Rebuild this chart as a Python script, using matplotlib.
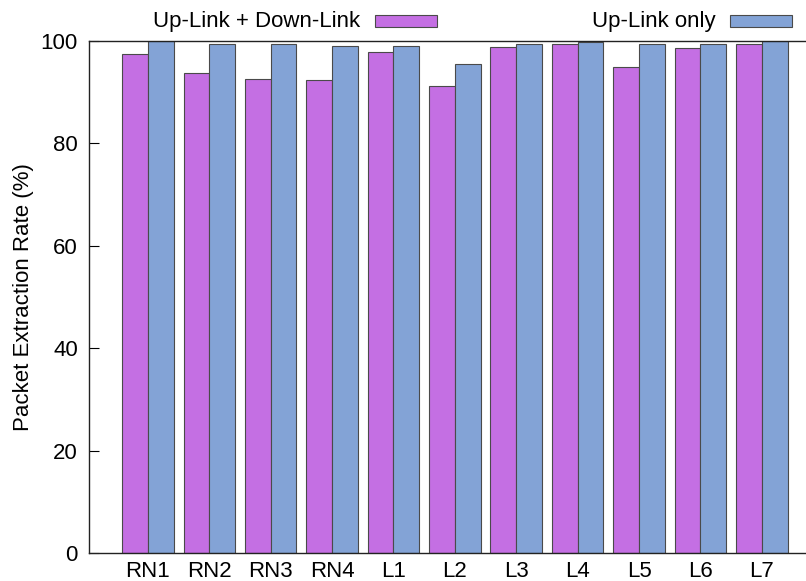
import numpy as np
import matplotlib
matplotlib.use("Agg")
import matplotlib.pyplot as plt
from matplotlib.patches import Rectangle

plt.rcParams['font.family'] = ['Liberation Sans', 'DejaVu Sans']

# packet extraction rate per node, in percent
nodes = ['RN1', 'RN2', 'RN3', 'RN4', 'L1', 'L2', 'L3', 'L4', 'L5', 'L6', 'L7']
up_down = [97.4, 93.7, 92.6, 92.3, 97.9, 91.3, 98.9, 99.4, 95.0, 98.7, 99.4]
up_only = [100.0, 99.4, 99.4, 99.0, 99.0, 95.6, 99.5, 99.9, 99.4, 99.4, 100.0]

purple = '#C46FE3'
blue = '#83A3D6'
edge = '#4a4a4a'
fs = 16

fig = plt.figure(figsize=(8.06, 5.81), dpi=100)
ax = fig.add_axes([89 / 806, 28 / 581, 1 - 89 / 806, 512 / 581])

x = np.arange(len(nodes))
w = 0.42
ax.bar(x - w / 2, up_down, w, color=purple, edgecolor=edge, linewidth=0.8)
ax.bar(x + w / 2, up_only, w, color=blue, edgecolor=edge, linewidth=0.8)

ax.set_xlim(-0.96, 10.72)
ax.set_ylim(0, 100)
ax.set_xticks(x)
ax.set_xticklabels(nodes, fontsize=fs)
ax.set_yticks(range(0, 101, 20))
ax.tick_params(axis='y', direction='in', length=7, labelsize=fs, pad=8)
ax.tick_params(axis='x', length=0, pad=6)
ax.set_ylabel('Packet Extraction Rate (%)', fontsize=fs, labelpad=4.5)
ax.spines['right'].set_visible(False)
for s in ('left', 'top', 'bottom'):
    ax.spines[s].set_linewidth(1.0)
    ax.spines[s].set_color('#222222')

# legend row above the plot
W, H = 806, 581
entries = [('Up-Link + Down-Link', purple, 360, 375),
           ('Up-Link only', blue, 716, 730)]
for label, col, tx, bx in entries:
    fig.text(tx / W, 1 - 21 / H, label, ha='right', va='center', fontsize=fs)
    fig.patches.append(Rectangle((bx / W, 1 - 27 / H), 62 / W, 12 / H,
                                 transform=fig.transFigure, facecolor=col,
                                 edgecolor=edge, linewidth=0.8))

fig.savefig('out.png', dpi=100)
